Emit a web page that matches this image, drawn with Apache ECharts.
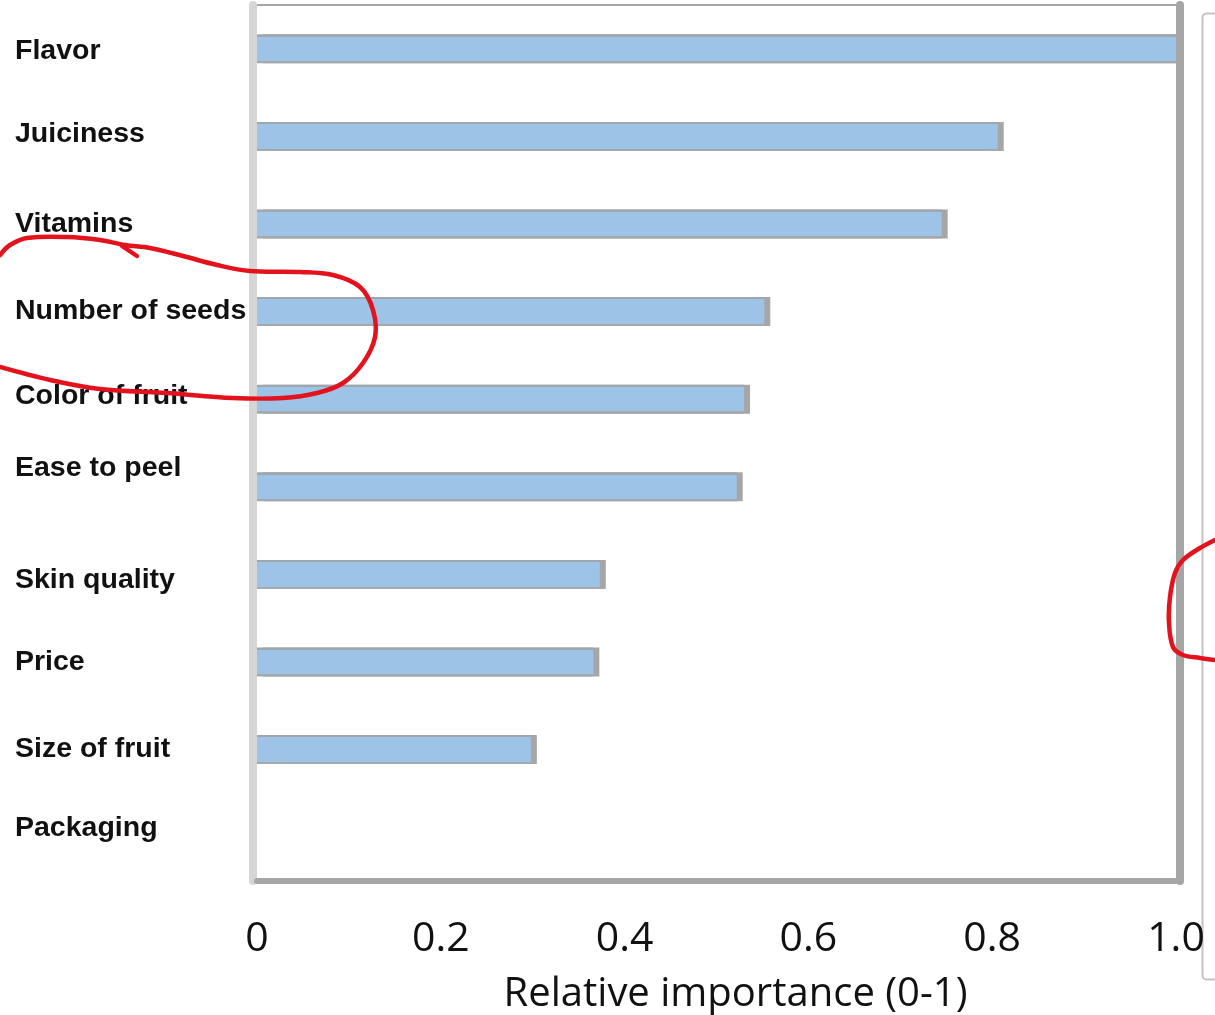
<!DOCTYPE html>
<html>
<head>
<meta charset="utf-8">
<title>Relative importance of fruit attributes</title>
<script src="https://cdn.jsdelivr.net/npm/echarts@6/dist/echarts.min.js"></script>
<style>
  html, body { margin: 0; padding: 0; background: #ffffff; }
  #chart { width: 1215px; height: 1015px; }
</style>
</head>
<body>
<div id="chart"></div>
<script>
// Attributes, top to bottom
const categories = [
  'Flavor', 'Juiciness', 'Vitamins', 'Number of seeds', 'Color of fruit',
  'Ease to peel', 'Skin quality', 'Price', 'Size of fruit', 'Packaging'
];
// Relative importance of each attribute (0-1)
const importance = [1.0, 0.806, 0.745, 0.552, 0.530, 0.522, 0.373, 0.366, 0.298, 0];
// Value axis tick labels
const tickLabels = ['0', '0.2', '0.4', '0.6', '0.8', '1.0'];

// Some attribute names sit a little above (or below) their bar
const labelLift = { 'Flavor': -2, 'Juiciness': 2, 'Color of fruit': 3, 'Ease to peel': 19, 'Skin quality': -6, 'Packaging': 9 };

const labelFont = { fontFamily: 'Liberation Sans', fontWeight: 'bold', fontSize: 28.5, color: '#111111' };
const rich = { base: Object.assign({}, labelFont) };
Object.keys(labelLift).forEach(function (k, i) {
  const d = labelLift[k];
  rich['lift' + i] = Object.assign({}, labelFont, { padding: [Math.max(0, -2 * d), 0, Math.max(0, 2 * d), 0] });
});

const chart = echarts.init(document.getElementById('chart'), null, { renderer: 'canvas' });

// Hand-drawn red annotation strokes
const redStroke = { stroke: '#e3131e', lineWidth: 4.5, lineCap: 'round', lineJoin: 'round', fill: null };

// Bar fill: light blue body with grey top and bottom edges
const barFill = new echarts.graphic.LinearGradient(0, 0, 0, 1, [
  { offset: 0, color: '#9fa6ae' },
  { offset: 0.08, color: '#9fa6ae' },
  { offset: 0.08, color: '#9dc3e6' },
  { offset: 0.92, color: '#9dc3e6' },
  { offset: 0.92, color: '#a4a9ae' },
  { offset: 1, color: '#a4a9ae' }
]);

chart.setOption({
  backgroundColor: '#ffffff',
  animation: false,
  grid: { left: 257, right: 39, top: 5, bottom: 134, containLabel: false, outerBoundsMode: 'none' },
  xAxis: [
    {
      type: 'value', min: 0, max: 1, interval: 0.2, position: 'bottom',
      axisLine: { show: true, onZero: false, lineStyle: { color: '#a6a6a6', width: 6 } },
      axisTick: { show: false },
      splitLine: { show: false },
      axisLabel: {
        margin: 38,
        fontFamily: 'Open Sans', fontSize: 41, color: '#111111',
        formatter: function (v) { return tickLabels[Math.round(v / 0.2)]; }
      },
      name: 'Relative importance (0-1)',
      nameLocation: 'middle', nameGap: 94,
      nameTextStyle: { fontFamily: 'Open Sans', fontSize: 40, color: '#111111', padding: [0, 0, 0, 38] },
      z: 10
    },
    {
      type: 'value', min: 0, max: 1, position: 'top',
      axisLine: { show: true, onZero: false, lineStyle: { color: '#a6a6a6', width: 2 } },
      axisTick: { show: false }, axisLabel: { show: false }, splitLine: { show: false }
    }
  ],
  yAxis: [
    {
      type: 'category', data: categories, inverse: true, position: 'left', offset: 4,
      axisLine: { show: true, onZero: false, lineStyle: { color: '#d6d6d6', width: 8 } },
      axisTick: { show: false },
      axisLabel: {
        align: 'left', margin: 238,
        formatter: function (v) {
          const i = Object.keys(labelLift).indexOf(v);
          return i >= 0 ? '{lift' + i + '|' + v + '}' : '{base|' + v + '}';
        },
        rich: rich
      },
      z: 10
    },
    {
      type: 'category', data: categories, inverse: true, position: 'right', offset: 4,
      axisLine: { show: true, onZero: false, lineStyle: { color: '#a6a6a6', width: 8 } },
      axisTick: { show: false }, axisLabel: { show: false }, splitLine: { show: false },
      z: 10
    }
  ],
  series: [
    {
      type: 'bar',
      data: importance,
      barWidth: 29,
      itemStyle: {
        color: barFill,
        borderWidth: 0,
        shadowColor: '#a6a6a6',
        shadowOffsetX: 6,
        shadowOffsetY: 0,
        shadowBlur: 0
      },
      emphasis: { disabled: true }
    }
  ],
  graphic: [
    {
      // neighbouring panel frame
      type: 'rect', left: 1200, top: 11, z: 1,
      shape: { width: 40, height: 966, r: 4 },
      style: { stroke: '#c4c4c4', lineWidth: 2, fill: null }
    },
    {
      type: 'polyline', z: 100,
      shape: {
        smooth: 0.35,
        points: [[0, 255], [10, 245], [27, 238], [67, 237], [100, 240], [125, 245], [150, 248],
          [183, 256], [217, 265], [250, 271], [300, 272], [333, 275], [360, 287], [373, 310],
          [375, 337], [363, 363], [343, 383], [317, 393], [283, 398], [233, 398], [167, 393],
          [100, 389], [50, 380], [0, 367]]
      },
      style: redStroke
    },
    {
      type: 'polyline', z: 100,
      shape: { points: [[122, 246], [137, 256]] },
      style: redStroke
    },
    {
      type: 'polyline', z: 100,
      shape: {
        smooth: 0.35,
        points: [[1215, 540], [1200, 548], [1183, 560], [1175, 573], [1170, 597], [1169, 623],
          [1173, 647], [1183, 655], [1200, 658], [1215, 660]]
      },
      style: redStroke
    }
  ]
});
</script>
</body>
</html>
